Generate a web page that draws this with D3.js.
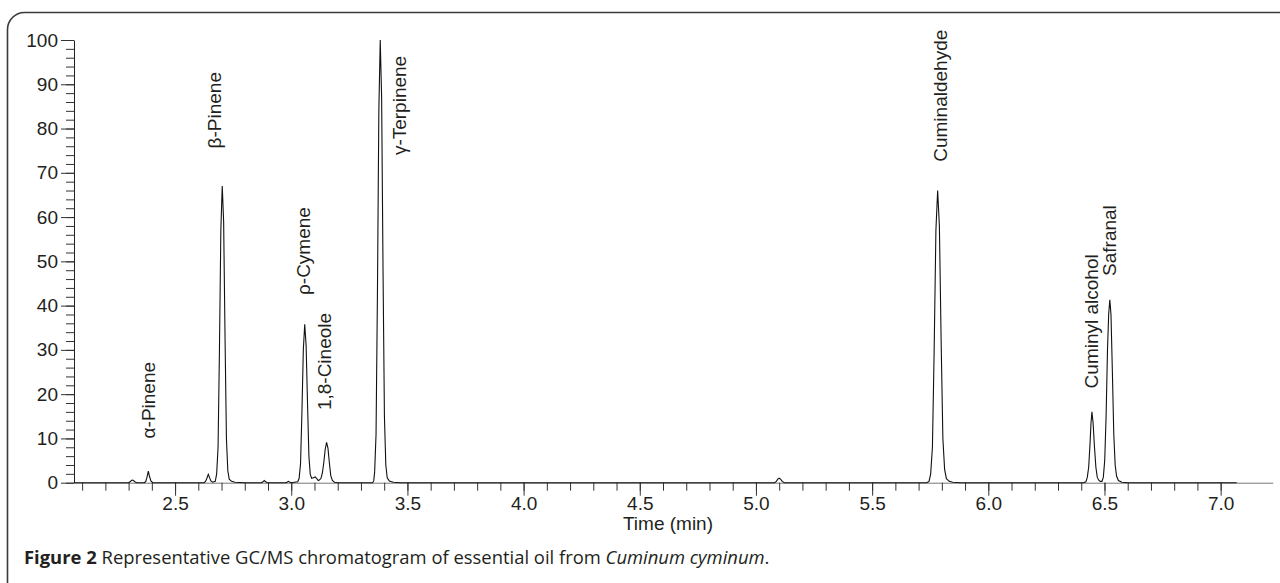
<!DOCTYPE html>
<html>
<head>
<meta charset="utf-8">
<script src="https://cdn.jsdelivr.net/npm/d3@7"></script>
<style>
html,body{margin:0;padding:0;background:#fff;}
svg{display:block;}
text{font-family:"Liberation Sans",Arial,sans-serif;fill:#231f20;}
</style>
</head>
<body>
<svg id="chart" width="1280" height="583"></svg>
<script>
// chromatogram: [time (min), relative abundance]
var trace = [
  [2.065,0],[2.300,0],[2.306,0.2],[2.312,0.5],[2.316,0.6],[2.321,0.5],[2.328,0.15],[2.336,0],
  [2.368,0],[2.374,0.3],[2.379,1.2],[2.385,2.6],[2.390,1.4],[2.396,0.4],[2.404,0],
  [2.625,0],[2.631,0.3],[2.637,1.0],[2.643,1.9],[2.648,1.2],[2.654,0.4],[2.662,0.1],
  [2.673,0.3],[2.679,2],[2.685,8],[2.691,30],[2.697,57],[2.703,67],[2.709,59],[2.715,33],
  [2.721,10],[2.727,2.7],[2.733,0.8],[2.743,0.3],[2.758,0.1],[2.800,0],
  [2.872,0],[2.878,0.2],[2.884,0.5],[2.890,0.2],[2.897,0],
  [2.978,0],[2.983,0.15],[2.988,0.3],[2.993,0.15],[2.999,0],
  [3.028,0.2],[3.034,1],[3.040,4.3],[3.046,16],[3.052,30],[3.058,35.8],[3.064,31],[3.070,18],
  [3.076,6],[3.082,1.8],[3.088,1.0],
  [3.095,1.1],[3.103,1.3],[3.110,0.9],[3.116,0.5],[3.121,0.6],
  [3.128,1.0],[3.134,2.2],[3.140,4.5],[3.146,7.5],[3.152,9.1],[3.158,7.8],[3.164,4.5],
  [3.170,1.6],[3.177,0.5],[3.186,0.1],[3.200,0],
  [3.350,0],[3.355,0.4],[3.359,2.5],[3.365,11],[3.371,43],[3.377,84],[3.383,100],[3.389,87],
  [3.395,48],[3.401,15],[3.407,4],[3.413,1.1],[3.422,0.4],[3.440,0.1],[3.470,0],
  [5.080,0],[5.088,0.3],[5.094,0.8],[5.100,1.0],[5.106,0.8],[5.113,0.3],[5.122,0],
  [5.735,0],[5.745,0.3],[5.752,2],[5.7595,8],[5.767,30],[5.7745,57],[5.782,66],[5.7895,58],[5.797,32],
  [5.8045,10],[5.812,3],[5.8195,0.9],[5.832,0.3],[5.847,0.1],[5.880,0],
  [6.410,0],[6.420,0.2],[6.426,1.2],[6.432,3.5],[6.438,9],[6.442,13.5],[6.446,16],[6.451,13.5],
  [6.457,8],[6.463,3.5],[6.469,1.2],[6.476,0.5],[6.482,0.3],
  [6.489,0.3],[6.495,1.2],[6.501,5],[6.507,15],[6.513,30],[6.518,38],[6.523,41.3],[6.528,38],
  [6.534,25],[6.540,11],[6.546,4],[6.552,1.5],[6.560,0.5],[6.575,0.1],[6.600,0],
  [7.069,0]
];

var compounds = ["α-Pinene","β-Pinene","ρ-Cymene","1,8-Cineole","γ-Terpinene",
                 "Cuminaldehyde","Cuminyl alcohol","Safranal"];
// where each name sits (time, abundance at the start of the rotated text)
var labelTime  = [2.383, 2.669, 3.052, 3.141, 3.464, 5.792, 6.445, 6.523];
var labelLevel = [10.0, 75.5, 42.4, 16.4, 74.0, 72.5, 21.3, 46.7];

var yTicks = [0,10,20,30,40,50,60,70,80,90,100];
var xTickLabels = ["2.5","3.0","3.5","4.0","4.5","5.0","5.5","6.0","6.5","7.0"];

var svg = d3.select("#chart");
var x = d3.scaleLinear().domain([2.065, 7.224]).range([74, 1272.7]);
var y = d3.scaleLinear().domain([0, 100]).range([482.7, 40]);

// frame with the rounded corner
svg.append("path")
  .attr("d","M7.5,583V29.5A17,17 0 0 1 24.5,12.5H1280")
  .attr("fill","none").attr("stroke","#3a3a3a").attr("stroke-width",1.6);

// x axis: minor ticks every 0.1, labelled ones every 0.5
var gxMinor = svg.append("g").attr("transform","translate(0,482.7)")
  .call(d3.axisBottom(x).tickValues(d3.range(21,71).map(function(d){return d/10;}))
        .tickSize(8).tickSizeOuter(0).tickFormat(""));
gxMinor.select(".domain").attr("stroke","#777");
gxMinor.selectAll(".tick line").attr("stroke","#333");

var gx = svg.append("g").attr("transform","translate(0,482.7)")
  .call(d3.axisBottom(x).tickValues(xTickLabels.map(Number))
        .tickSize(13).tickPadding(1)
        .tickFormat(function(d,i){return xTickLabels[i];}));
gx.select(".domain").remove();
gx.selectAll(".tick line").attr("stroke","#333");
gx.selectAll("text").attr("font-size",19).attr("font-family",null);

// y axis
var gyMinor = svg.append("g").attr("transform","translate(74,0)")
  .call(d3.axisLeft(y).tickValues(d3.range(0,101,2)).tickSize(8).tickSizeOuter(0).tickFormat(""));
gyMinor.select(".domain").attr("stroke","#222");
gyMinor.selectAll(".tick line").attr("stroke","#333");

var gy = svg.append("g").attr("transform","translate(74,0)")
  .call(d3.axisLeft(y).tickValues(yTicks).tickSize(13).tickPadding(3));
gy.select(".domain").remove();
gy.selectAll(".tick line").attr("stroke","#333");
gy.selectAll("text").attr("font-size",19).attr("font-family",null);

// the trace
var line = d3.line().x(function(d){return x(d[0]);}).y(function(d){return y(d[1]);});
svg.append("path").datum(trace).attr("d",line)
  .attr("fill","none").attr("stroke","#111").attr("stroke-width",1.1);

// peak names, rotated
svg.selectAll(".lbl").data(compounds).enter().append("text")
  .attr("class","lbl")
  .attr("transform",function(d,i){return "translate("+x(labelTime[i])+","+y(labelLevel[i])+") rotate(-90)";})
  .attr("dy","0.35em").attr("font-size",19)
  .text(function(d){return d;});

svg.append("text").attr("x",668).attr("y",530).attr("text-anchor","middle")
  .attr("font-size",19).text("Time (min)");

// caption
var cap = svg.append("text").attr("x",0).attr("y",0)
  .style("font-family","'Open Sans',sans-serif").attr("font-size",17.5);
cap.append("tspan").attr("font-weight","bold").text("Figure 2");
cap.append("tspan").text(" Representative GC/MS chromatogram of essential oil from ");
cap.append("tspan").attr("font-style","italic").text("Cuminum cyminum");
cap.append("tspan").text(".");
var w = cap.node().getComputedTextLength();
cap.attr("transform","translate(24,564) scale("+(746/w)+",1)");
</script>
</body>
</html>
